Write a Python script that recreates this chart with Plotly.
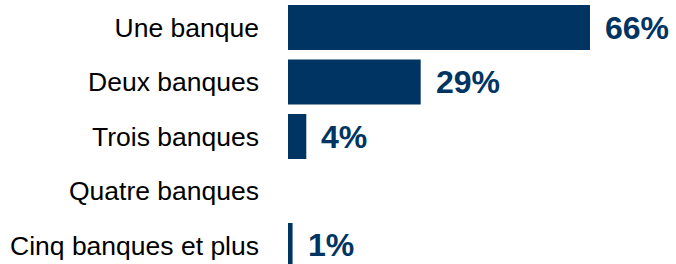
import plotly.graph_objects as go

categories = ["Une banque", "Deux banques", "Trois banques", "Quatre banques", "Cinq banques et plus"]
values = [66, 29, 4, 0, 1]
labels = ["66%", "29%", "4%", "", "1%"]

navy = "#003462"

fig = go.Figure()
fig.add_trace(go.Bar(
    y=categories, x=values, orientation="h",
    marker=dict(color=navy, line=dict(width=0)),
    hoverinfo="skip",
))

for c, v, t in zip(categories, values, labels):
    if t:
        fig.add_annotation(x=v, y=c, text="<b>%s</b>" % t, showarrow=False,
                           xanchor="left", yanchor="middle", xshift=13, yshift=0,
                           font=dict(family="Liberation Sans", size=32, color=navy))

fig.update_layout(
    width=676, height=264,
    margin=dict(l=288, r=0, t=0, b=0),
    paper_bgcolor="white", plot_bgcolor="white",
    bargap=0.174,
    showlegend=False,
    xaxis=dict(range=[0, 84.8], visible=False, fixedrange=True),
    yaxis=dict(categoryorder="array", categoryarray=categories,
               range=[4.34, -0.505], showgrid=False, zeroline=False,
               showline=False, ticks="", ticklabelstandoff=28, fixedrange=True,
               tickfont=dict(family="Liberation Sans", size=26.5, color="black")),
)

fig.write_html("out.html",
               config={"displayModeBar": False, "staticPlot": True},
               post_script="document.body.style.margin='0';document.body.style.overflow='hidden';")
